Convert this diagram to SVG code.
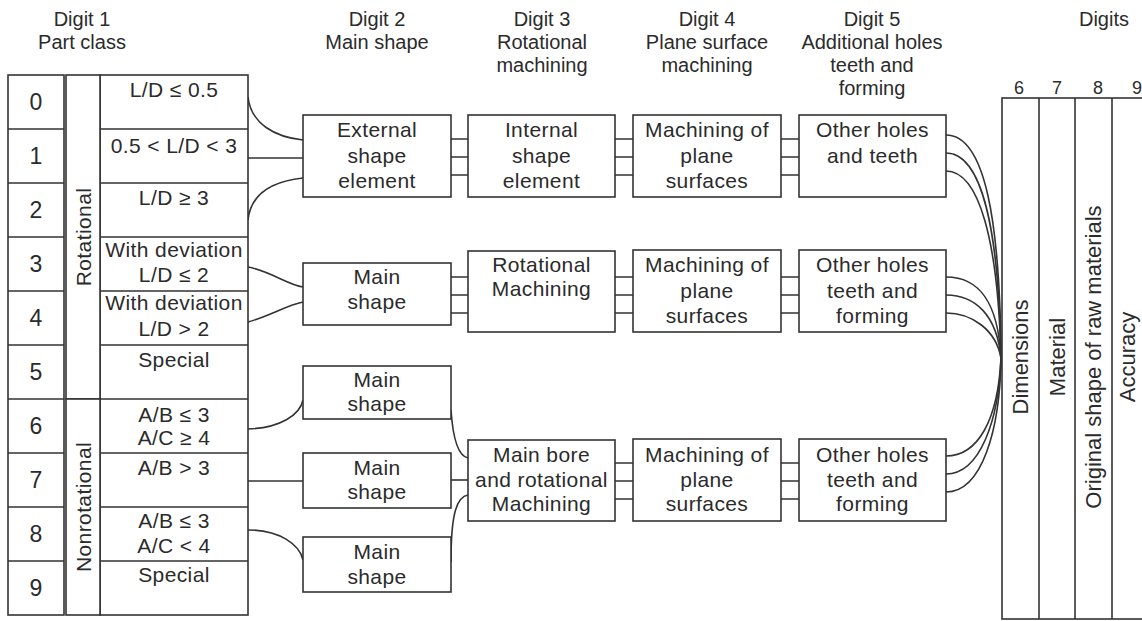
<svg xmlns="http://www.w3.org/2000/svg" width="1142" height="621" viewBox="0 0 1142 621">
  <style>
    .ln { fill: none; stroke: #333; stroke-width: 1.6; }
    .bx { fill: #fff; stroke: #333; stroke-width: 1.6; }
    text { font-family: "Liberation Sans", Arial, Helvetica, sans-serif; fill: #2b2b2b; text-anchor: middle; }
    .h { font-size: 20px; }
    .b { font-size: 21px; letter-spacing: 0.4px; }
    .n { font-size: 23px; }
    .v { font-size: 22px; }
    .s { font-size: 18px; }
  </style>
  <rect width="1142" height="621" fill="#fff"/>

  <!-- column headings -->
  <g id="headers">
    <text class="h" x="82" y="26">Digit 1</text>
    <text class="h" x="82" y="49">Part class</text>
    <text class="h" x="377" y="26">Digit 2</text>
    <text class="h" x="377" y="49">Main shape</text>
    <text class="h" x="542" y="26">Digit 3</text>
    <text class="h" x="542" y="49">Rotational</text>
    <text class="h" x="542" y="72">machining</text>
    <text class="h" x="707" y="26">Digit 4</text>
    <text class="h" x="707" y="49">Plane surface</text>
    <text class="h" x="707" y="72">machining</text>
    <text class="h" x="872" y="26">Digit 5</text>
    <text class="h" x="872" y="49">Additional holes</text>
    <text class="h" x="872" y="72">teeth and</text>
    <text class="h" x="872" y="95">forming</text>
    <text class="h" x="1104" y="26">Digits</text>
  </g>

  <!-- links between the classification stages -->
  <g id="connectors">
    <!-- part class rows to digit 2 -->
    <path class="ln" d="M248,97 C251,124 275,137 303,140"/>
    <path class="ln" d="M248,158 L303,158"/>
    <path class="ln" d="M248,220 C251,192 275,181 303,178"/>
    <path class="ln" d="M248,267 C270,271 288,285 303,287"/>
    <path class="ln" d="M248,322 C270,316 287,305 303,302"/>
    <path class="ln" d="M248,429 C280,428 300,415 303,400"/>
    <path class="ln" d="M248,481 L303,481"/>
    <path class="ln" d="M248,530 C280,530 300,545 303,560"/>
    <!-- digit 2 to digit 3 -->
    <path class="ln" d="M451,139 H468 M451,157 H468 M451,175 H468"/>
    <path class="ln" d="M451,277 H468 M451,295 H468 M451,313 H468"/>
    <path class="ln" d="M451,410 C453,440 458,456 468,458"/>
    <path class="ln" d="M451,480 H468"/>
    <path class="ln" d="M451,562 C451,520 455,497 468,495"/>
    <!-- digit 3 to digit 4 -->
    <path class="ln" d="M615,139 H633 M615,157 H633 M615,175 H633"/>
    <path class="ln" d="M615,277 H633 M615,295 H633 M615,313 H633"/>
    <path class="ln" d="M615,463 H633 M615,481 H633 M615,499 H633"/>
    <!-- digit 4 to digit 5 -->
    <path class="ln" d="M781,139 H799 M781,157 H799 M781,175 H799"/>
    <path class="ln" d="M781,277 H799 M781,295 H799 M781,313 H799"/>
    <path class="ln" d="M781,463 H799 M781,481 H799 M781,499 H799"/>
    <!-- digit 5 into digits 6-9 -->
    <path class="ln" d="M946,135 C985,135 1000,220 1001,358"/>
    <path class="ln" d="M946,153 C982,153 999,230 1001,358"/>
    <path class="ln" d="M946,171 C979,171 998,240 1001,358"/>
    <path class="ln" d="M946,277 C978,277 998,300 1001,358"/>
    <path class="ln" d="M946,295 C975,295 997,315 1001,358"/>
    <path class="ln" d="M946,313 C972,313 996,330 1001,358"/>
    <path class="ln" d="M946,456 C978,456 998,420 1001,358"/>
    <path class="ln" d="M946,474 C980,474 999,420 1001,358"/>
    <path class="ln" d="M946,492 C982,492 1000,430 1001,358"/>
  </g>

  <!-- digit 1: part class table -->
  <g id="part-class">
    <rect class="bx" x="8" y="75" width="56" height="540"/>
    <rect class="bx" x="100" y="75" width="148" height="540"/>
    <path class="ln" d="M8,129 H64 M8,183 H64 M8,237 H64 M8,291 H64 M8,345 H64 M8,399 H64 M8,453 H64 M8,507 H64 M8,561 H64"/>
    <path class="ln" d="M100,129 H248 M100,183 H248 M100,237 H248 M100,291 H248 M100,345 H248 M100,399 H248 M100,453 H248 M100,507 H248 M100,561 H248"/>
  </g>
  <g id="band-rotational">
    <rect class="bx" x="66" y="75" width="34" height="324"/>
    <text class="b" transform="translate(91,237) rotate(-90)">Rotational</text>
  </g>
  <g id="band-nonrotational">
    <rect class="bx" x="66" y="399" width="34" height="216"/>
    <text class="b" transform="translate(91,507) rotate(-90)">Nonrotational</text>
  </g>
  <g id="row-0"><text class="n" x="36" y="110">0</text><text class="b" x="174" y="97">L/D ≤ 0.5</text></g>
  <g id="row-1"><text class="n" x="36" y="164">1</text><text class="b" x="174" y="153">0.5 &lt; L/D &lt; 3</text></g>
  <g id="row-2"><text class="n" x="36" y="218">2</text><text class="b" x="174" y="205">L/D ≥ 3</text></g>
  <g id="row-3"><text class="n" x="36" y="272">3</text><text class="b" x="174" y="257">With deviation</text><text class="b" x="174" y="282">L/D ≤ 2</text></g>
  <g id="row-4"><text class="n" x="36" y="326">4</text><text class="b" x="174" y="310">With deviation</text><text class="b" x="174" y="336">L/D &gt; 2</text></g>
  <g id="row-5"><text class="n" x="36" y="380">5</text><text class="b" x="174" y="367">Special</text></g>
  <g id="row-6"><text class="n" x="36" y="434">6</text><text class="b" x="174" y="422">A/B ≤ 3</text><text class="b" x="174" y="445">A/C ≥ 4</text></g>
  <g id="row-7"><text class="n" x="36" y="488">7</text><text class="b" x="174" y="475">A/B &gt; 3</text></g>
  <g id="row-8"><text class="n" x="36" y="542">8</text><text class="b" x="174" y="528">A/B ≤ 3</text><text class="b" x="174" y="553">A/C &lt; 4</text></g>
  <g id="row-9"><text class="n" x="36" y="596">9</text><text class="b" x="174" y="582">Special</text></g>

  <!-- digit 2 -->
  <g id="d2-external">
    <rect class="bx" x="303" y="115" width="148" height="82"/>
    <text class="b" x="377" y="137">External</text>
    <text class="b" x="377" y="163">shape</text>
    <text class="b" x="377" y="188">element</text>
  </g>
  <g id="d2-main-rot">
    <rect class="bx" x="303" y="263" width="148" height="62"/>
    <text class="b" x="377" y="284">Main</text>
    <text class="b" x="377" y="309">shape</text>
  </g>
  <g id="d2-main-6">
    <rect class="bx" x="303" y="366" width="148" height="53"/>
    <text class="b" x="377" y="387">Main</text>
    <text class="b" x="377" y="411">shape</text>
  </g>
  <g id="d2-main-7">
    <rect class="bx" x="303" y="453" width="148" height="55"/>
    <text class="b" x="377" y="475">Main</text>
    <text class="b" x="377" y="499">shape</text>
  </g>
  <g id="d2-main-8">
    <rect class="bx" x="303" y="537" width="148" height="55"/>
    <text class="b" x="377" y="559">Main</text>
    <text class="b" x="377" y="584">shape</text>
  </g>

  <!-- digit 3 -->
  <g id="d3-internal">
    <rect class="bx" x="468" y="115" width="147" height="82"/>
    <text class="b" x="541.5" y="137">Internal</text>
    <text class="b" x="541.5" y="163">shape</text>
    <text class="b" x="541.5" y="188">element</text>
  </g>
  <g id="d3-rotational">
    <rect class="bx" x="468" y="251" width="147" height="81"/>
    <text class="b" x="541.5" y="272">Rotational</text>
    <text class="b" x="541.5" y="296">Machining</text>
  </g>
  <g id="d3-main-bore">
    <rect class="bx" x="468" y="440" width="147" height="81"/>
    <text class="b" x="541.5" y="462">Main bore</text>
    <text class="b" x="541.5" y="487">and rotational</text>
    <text class="b" x="541.5" y="511">Machining</text>
  </g>

  <!-- digit 4 -->
  <g id="d4-plane-1">
    <rect class="bx" x="633" y="115" width="148" height="82"/>
    <text class="b" x="707" y="137">Machining of</text>
    <text class="b" x="707" y="163">plane</text>
    <text class="b" x="707" y="188">surfaces</text>
  </g>
  <g id="d4-plane-2">
    <rect class="bx" x="633" y="250" width="148" height="82"/>
    <text class="b" x="707" y="272">Machining of</text>
    <text class="b" x="707" y="298">plane</text>
    <text class="b" x="707" y="323">surfaces</text>
  </g>
  <g id="d4-plane-3">
    <rect class="bx" x="633" y="439" width="148" height="82"/>
    <text class="b" x="707" y="462">Machining of</text>
    <text class="b" x="707" y="487">plane</text>
    <text class="b" x="707" y="511">surfaces</text>
  </g>

  <!-- digit 5 -->
  <g id="d5-holes-1">
    <rect class="bx" x="799" y="115" width="147" height="82"/>
    <text class="b" x="872.5" y="137">Other holes</text>
    <text class="b" x="872.5" y="163">and teeth</text>
  </g>
  <g id="d5-holes-2">
    <rect class="bx" x="799" y="250" width="147" height="82"/>
    <text class="b" x="872.5" y="272">Other holes</text>
    <text class="b" x="872.5" y="298">teeth and</text>
    <text class="b" x="872.5" y="323">forming</text>
  </g>
  <g id="d5-holes-3">
    <rect class="bx" x="799" y="439" width="147" height="82"/>
    <text class="b" x="872.5" y="462">Other holes</text>
    <text class="b" x="872.5" y="487">teeth and</text>
    <text class="b" x="872.5" y="511">forming</text>
  </g>

  <!-- digits 6 to 9 -->
  <g id="digits-6-9">
    <rect class="bx" x="1002" y="98" width="147" height="521"/>
    <path class="ln" d="M1039,98 V619 M1075,98 V619 M1112,98 V619"/>
    <text class="s" x="1019" y="94">6</text>
    <text class="s" x="1057" y="94">7</text>
    <text class="s" x="1098" y="94">8</text>
    <text class="s" x="1137" y="94">9</text>
    <text class="v" transform="translate(1028,357) rotate(-90)">Dimensions</text>
    <text class="v" transform="translate(1065,357) rotate(-90)">Material</text>
    <text class="v" transform="translate(1101,357) rotate(-90)">Original shape of raw materials</text>
    <text class="v" transform="translate(1135,357) rotate(-90)">Accuracy</text>
  </g>
</svg>
